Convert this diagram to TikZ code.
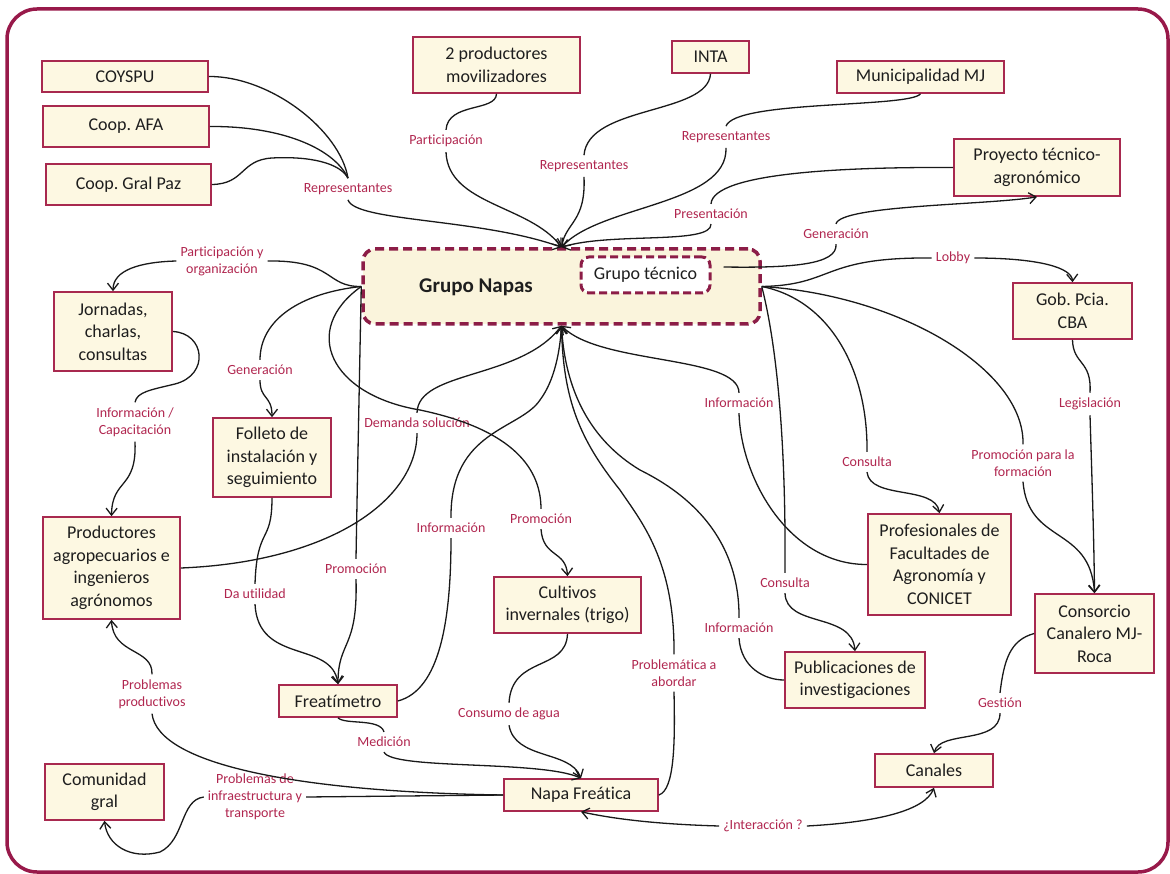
\documentclass[tikz,border=0pt]{standalone}
\usepackage{fontspec}
\setmainfont{Carlito}[Ligatures=CommonOff]
\usetikzlibrary{arrows.meta,calc}
\definecolor{boxred}{HTML}{A8294F}
\definecolor{lblred}{HTML}{B0264F}
\definecolor{framered}{HTML}{98194A}
\definecolor{dashred}{HTML}{8C1D47}
\definecolor{cream}{HTML}{FDF8E2}
\definecolor{napasfill}{HTML}{FAF4DC}
\definecolor{ink}{HTML}{1E1E1E}
\frenchspacing
\begin{document}
\begin{tikzpicture}[x=1pt,y=-1pt,
  box/.style={draw=boxred,line width=1.6pt,fill=cream,text=ink,align=center,
    inner sep=0pt,font=\fontsize{18}{22.5}\selectfont},
  lbl/.style={text=lblred,align=center,inner xsep=4pt,inner ysep=5pt,
    font=\fontsize{14}{17}\selectfont},
  conn/.style={draw=black!90,line width=1.3pt},
  arr/.style={conn,-{Straight Barb[length=7pt,width=11pt,line width=1.3pt]}}]
\useasboundingbox (0,0) rectangle (1170,874);
% outer frame
\draw[framered,line width=3.5pt,rounded corners=30pt] (7,9) rectangle (1168,872);

% central group
\node[draw=dashred,line width=3.5pt,dash pattern=on 9pt off 5pt,rounded corners=12pt,
  fill=napasfill,minimum width=397pt,minimum height=75pt,inner sep=0pt] (napas) at (561.5,286.5) {};
\node[text=ink,font=\fontsize{21}{24}\selectfont\bfseries] (napastxt) at (476,287) {Grupo Napas};
\node[draw=dashred,line width=3pt,dash pattern=on 8pt off 4pt,rounded corners=8pt,fill=white,
  minimum width=129pt,minimum height=36pt,inner sep=0pt,text=ink,font=\fontsize{18}{22}\selectfont]
  (tecnico) at (645.5,275) {Grupo técnico};

% boxes
\node[box,minimum width=166pt,minimum height=31pt] (coyspu) at (125,76.5) {COYSPU};
\node[box,minimum width=166pt,minimum height=41pt] (afa) at (126,126.5) {Coop. AFA};
\node[box,minimum width=165pt,minimum height=41pt] (gralpaz) at (128.5,184.5) {Coop. Gral Paz};
\node[box,minimum width=167pt,minimum height=56pt] (prodmov) at (496.5,65) {2 productores\\movilizadores};
\node[box,minimum width=77pt,minimum height=32pt] (inta) at (710.5,57) {INTA};
\node[box,minimum width=167pt,minimum height=32pt] (muni) at (920.5,77) {Municipalidad MJ};
\node[box,minimum width=166pt,minimum height=57pt] (proy) at (1037,167.5) {Proyecto técnico-\\agronómico};
\node[box,minimum width=118pt,minimum height=79pt] (jorn) at (113,331.5) {Jornadas,\\charlas,\\consultas};
\node[box,minimum width=118pt,minimum height=79pt] (folleto) at (272,457.5) {Folleto de\\instalación y\\seguimiento};
\node[box,minimum width=137pt,minimum height=102pt] (prod) at (111.5,568) {Productores\\agropecuarios e\\ingenieros\\agrónomos};
\node[box,minimum width=118pt,minimum height=32pt] (freat) at (338,701) {Freatímetro};
\node[box,minimum width=119pt,minimum height=56pt] (comun) at (104.5,792) {Comunidad\\gral};
\node[box,minimum width=154pt,minimum height=32pt] (napa) at (581,795) {Napa Freática};
\node[box,minimum width=147pt,minimum height=56pt] (cult) at (567.5,605) {Cultivos\\invernales (trigo)};
\node[box,minimum width=140pt,minimum height=56pt] (publ) at (855,680) {Publicaciones de\\investigaciones};
\node[box,minimum width=143pt,minimum height=101pt] (prof) at (939.5,564.5) {Profesionales de\\Facultades de\\Agronomía y\\CONICET};
\node[box,minimum width=119pt,minimum height=56pt] (gob) at (1072.5,311) {Gob. Pcia.\\CBA};
\node[box,minimum width=119pt,minimum height=79pt] (consorcio) at (1094.5,633.5) {Consorcio\\Canalero MJ-\\Roca};
\node[box,minimum width=118pt,minimum height=33pt] (canales) at (934,770.5) {Canales};

% connector labels
\node[lbl] (lRepL) at (348,189) {Representantes};
\node[lbl] (lPart) at (446,141) {Participación};
\node[lbl] (lRepM) at (584,166) {Representantes};
\node[lbl] (lRepR) at (726,137) {Representantes};
\node[lbl] (lPres) at (711,214) {Presentación};
\node[lbl] (lGenR) at (836,234) {Generación};
\node[lbl] (lLobby) at (953,258) {Lobby};
\node[lbl] (lPartOrg) at (222,261) {Participación y\\organización};
\node[lbl] (lGenL) at (260,370) {Generación};
\node[lbl] (lInfoCap) at (135,422) {Información /\\Capacitación};
\node[lbl] (lDem) at (417,423) {Demanda solución};
\node[lbl] (lInfoM) at (451,528) {Información};
\node[lbl] (lPromM) at (541,519) {Promoción};
\node[lbl] (lInfoR) at (739,403) {Información};
\node[lbl] (lPromL) at (356,569) {Promoción};
\node[lbl] (lDaUt) at (255,594) {Da utilidad};
\node[lbl] (lConsU) at (867,462) {Consulta};
\node[lbl] (lPromForm) at (1023,463) {Promoción para la\\formación};
\node[lbl] (lLeg) at (1090,404) {Legislación};
\node[lbl] (lConsL) at (785,583) {Consulta};
\node[lbl] (lInfoL) at (739,628) {Información};
\node[lbl] (lProbAb) at (674,673) {Problemática a\\abordar};
\node[lbl] (lConsumo) at (509,714) {Consumo de agua};
\node[lbl] (lMed) at (384,742) {Medición};
\node[lbl] (lProbProd) at (152,694) {Problemas\\productivos};
\node[lbl] (lProbInf) at (255,797) {Problemas de\\infraestructura y\\transporte};
\node[lbl] (lInter) at (763,826) {¿Interacción ?};
\node[lbl] (lGest) at (1000,703) {Gestión};

% representatives and participants into the group (top)
\draw[conn] (coyspu.east) .. controls (270,76) and (340,130) .. (lRepL.north);
\draw[conn] (afa.east) .. controls (285,126) and (335,150) .. (lRepL.north);
\draw[conn] (gralpaz.east) .. controls (245,184) and (240,160) .. (272,158) .. controls (310,156) and (340,163) .. (lRepL.north);
\draw[arr] (lRepL.south) .. controls (355,222) and (480,218) .. (napas.north);
\draw[conn] (prodmov.south) .. controls (496,112) and (448,102) .. (lPart.north);
\draw[arr] (lPart.south) .. controls (448,205) and (530,205) .. (napas.north);
\draw[conn] (inta.south) .. controls (708,115) and (588,105) .. (lRepM.north);
\draw[arr] (lRepM.south) .. controls (586,222) and (566,222) .. (napas.north);
\draw[conn] (muni.south) .. controls (910,108) and (735,100) .. (lRepR.north);
\draw[arr] (lRepR.south) .. controls (728,205) and (600,205) .. (napas.north);
\draw[conn] (proy.west) .. controls (850,167) and (713,172) .. (lPres.north);
\draw[arr] (lPres.south) .. controls (712,245) and (610,232) .. (napas.north);

% right side
\draw[conn] ($(tecnico.east)+(12,-8)$) .. controls (790,268) and (838,265) .. (lGenR.south);
\draw[arr] (lGenR.north) .. controls (840,205) and (990,205) .. (proy.south);
\draw[conn] (napas.east) .. controls (835,285) and (820,257) .. (lLobby.west);
\draw[arr] (lLobby.east) .. controls (1040,258) and (1072,268) .. (gob.north);
\draw[conn] (gob.south) .. controls (1073,365) and (1092,360) .. (lLeg.north);
\draw[arr] (lLeg.south) .. controls (1092,480) and (1094,540) .. (consorcio.north);
\draw[conn] (napas.east) .. controls (900,295) and (1025,370) .. (lPromForm.north);
\draw[arr] (lPromForm.south) .. controls (1028,545) and (1090,525) .. (consorcio.north);
\draw[conn] (napas.east) .. controls (830,300) and (868,370) .. (lConsU.north);
\draw[arr] (lConsU.south) .. controls (870,500) and (935,485) .. (prof.north);
\draw[conn] (napas.east) .. controls (778,350) and (786,450) .. (lConsL.north);
\draw[arr] (lConsL.south) .. controls (786,628) and (852,612) .. (publ.north);
\draw[conn] (prof.west) .. controls (790,565) and (741,480) .. (lInfoR.south);
\draw[arr] (lInfoR.north) .. controls (739,355) and (600,365) .. (napas.south);
\draw[conn] (publ.west) .. controls (765,680) and (741,668) .. (lInfoL.south);
\draw[arr] (lInfoL.north) .. controls (740,525) and (670,485) .. (640,470) .. controls (590,440) and (565,390) .. (napas.south);
\draw[conn] (napa.east) .. controls (675,790) and (675,740) .. (lProbAb.south);
\draw[arr] (lProbAb.north) .. controls (675,560) and (640,520) .. (620,490) .. controls (580,440) and (563,400) .. (napas.south);

% centre and left side
\draw[arr] (lPromM.south) .. controls (543,558) and (566,550) .. (cult.north);
\draw[conn] (napas.west) .. controls (300,330) and (330,395) .. (420,410) .. controls (515,430) and (541,470) .. (lPromM.north);
\draw[conn] (napas.west) .. controls (300,293) and (260,320) .. (lGenL.north);
\draw[arr] (lGenL.south) .. controls (260,400) and (272,395) .. (folleto.north);
\draw[conn] (napas.west) .. controls (325,287) and (335,260) .. (lPartOrg.east);
\draw[arr] (lPartOrg.west) .. controls (140,262) and (113,270) .. (jorn.north);
\draw[conn] (jorn.east) .. controls (205,333) and (210,375) .. (175,384) .. controls (150,390) and (137,392) .. (lInfoCap.north);
\draw[arr] (lInfoCap.south) .. controls (137,490) and (112,478) .. (prod.north);
\draw[conn] (prod.east) .. controls (330,562) and (417,500) .. (lDem.south);
\draw[arr] (lDem.north) .. controls (418,370) and (520,380) .. (napas.south);
\draw[conn] (freat.east) .. controls (440,690) and (451,620) .. (lInfoM.south);
\draw[arr] (lInfoM.north) .. controls (450,430) and (520,430) .. (540,400) .. controls (555,380) and (560,350) .. (napas.south);
\draw[conn] (napas.west) .. controls (359,400) and (357,500) .. (lPromL.north);
\draw[arr] (lPromL.south) .. controls (358,650) and (338,640) .. (freat.north);
\draw[conn] (folleto.south) .. controls (272,545) and (257,525) .. (lDaUt.north);
\draw[arr] (lDaUt.south) .. controls (258,665) and (332,640) .. (freat.north);

% bottom
\draw[conn] (freat.south) .. controls (345,725) and (380,718) .. (lMed.north);
\draw[arr] (lMed.south) .. controls (392,770) and (540,760) .. (napa.north);
\draw[conn] (cult.south) .. controls (566,672) and (512,655) .. (lConsumo.north);
\draw[arr] (lConsumo.south) .. controls (515,760) and (570,750) .. (napa.north);
\draw[conn] (napa.west) .. controls (300,792) and (158,765) .. (lProbProd.south);
\draw[arr] (lProbProd.north) .. controls (153,648) and (113,655) .. (prod.south);
\draw[conn] (napa.west) -- (lProbInf.east);
\draw[arr] (lProbInf.west) .. controls (180,800) and (185,840) .. (160,852) .. controls (130,860) and (107,845) .. (comun.south);
\draw[arr] (lInter.west) .. controls (650,824) and (610,818) .. (napa.south);
\draw[arr] (lInter.east) .. controls (880,822) and (925,810) .. (canales.south);
\draw[conn] (consorcio.west) .. controls (1010,640) and (1004,660) .. (lGest.north);
\draw[arr] (lGest.south) .. controls (1000,745) and (940,730) .. (canales.north);
\end{tikzpicture}
\end{document}
